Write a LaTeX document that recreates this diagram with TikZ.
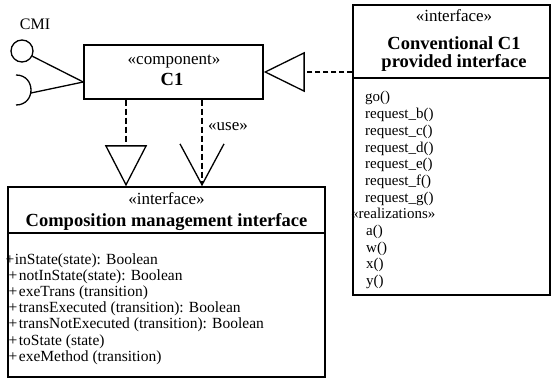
\documentclass[tikz,border=0pt]{standalone}
\usepackage{fontspec}
\setmainfont{Liberation Serif}
\usetikzlibrary{arrows.meta}

\tikzset{
  umlbox/.style={draw, rectangle, line width=1.5pt, inner sep=0pt},
  sepline/.style={line width=1.5pt},
  stereo/.style={anchor=base, inner sep=0pt, font=\fontsize{17}{19}\selectfont},
  umltitle/.style={anchor=base, inner sep=0pt, font=\fontsize{18.5}{20}\selectfont\bfseries},
  oper/.style={anchor=base west, inner sep=0pt, font=\fontsize{15}{17}\selectfont},
  link/.style={line width=1.3pt},
  realize/.style={line width=1.3pt, dash pattern=on 5pt off 3pt},
  usage/.style={line width=2.4pt, dash pattern=on 6pt off 3pt},
}

\begin{document}
\begin{tikzpicture}[x=1pt, y=-1pt]
  \useasboundingbox (0,0) rectangle (551,379);
  % component C1 with its two ports on the left
  \node[umlbox, minimum width=179pt, minimum height=54pt] (comp) at (173.5,72) {};
  \node[stereo] (compst) at (174,65) {«component»};
  \node[umltitle] (compname) at (172,86) {C1};
  \node[draw, circle, link, minimum size=22pt, inner sep=0pt] (cmi) at (22,51) {};
  \node[stereo, font=\fontsize{16}{18}\selectfont] (cmilabel) at (35,30) {CMI};
  \coordinate (join) at ([yshift=-10pt]comp.west);
  \coordinate (sockend) at (31,93);
  \draw[link] (16,75) .. controls (36,75) and (36,105) .. (16,105);
  \draw[link] (cmi) -- (join);
  \draw[link] (sockend) -- (join);

  % provided interface (right)
  \node[umlbox, minimum width=197pt, minimum height=290pt] (prov) at (451.5,150) {};
  \draw[sepline] ([yshift=-74pt]prov.north west) -- ([yshift=-74pt]prov.north east);
  \node[stereo] (provst) at (454,22) {«interface»};
  \node[umltitle] (provname) at (454,50) {Conventional C1};
  \node[umltitle] (provname2) at (454,68) {provided interface};
  \foreach \op [count=\i from 0] in {go(), request\_b(), request\_c(), request\_d(), request\_e(), request\_f(), request\_g()}
    \node[oper] (rop\i) at (365,{102+16.7*\i}) {\op};
  \node[oper] (rop7) at (351,{102+16.7*7}) {«realizations»};
  \foreach \op [count=\i from 8] in {a(), w(), x(), y()}
    \node[oper] (rop\i) at (366,{102+16.7*\i}) {\op};

  % composition management interface (bottom)
  \node[umlbox, minimum width=317pt, minimum height=190pt] (iface) at (166.5,282) {};
  \draw[sepline] ([yshift=-47pt]iface.north west) -- ([yshift=-47pt]iface.north east);
  \node[stereo] (ifst) at (166.5,205) {«interface»};
  \node[umltitle] (ifname) at (166.5,226.5) {Composition management interface};
  \node[oper, font=\fontsize{15.5}{18}\selectfont] (lop0) at (5.5,264) {+\hspace{0.5pt}inState(state): Boolean};
  \foreach \op [count=\i] in {notInState(state): Boolean, exeTrans (transition), transExecuted (transition): Boolean, transNotExecuted (transition): Boolean, toState (state), exeMethod (transition)}
    \node[oper, font=\fontsize{15.5}{18}\selectfont] (lop\i) at (8.5,{264+16.2*\i}) {+\hspace{1.5pt}\op};

  % dependencies
  \coordinate (realtop) at ([xshift=-47.5pt]comp.south);
  \coordinate (usetop) at ([xshift=28.5pt]comp.south);
  \draw[realize, -{Triangle[open, length=41pt, width=40pt, line width=1.3pt]}] (prov.west |- comp.east) -- (comp.east);
  \draw[usage, -{Triangle[open, length=41pt, width=42pt, line width=1.3pt]}] (realtop) -- (realtop |- iface.north);
  \draw[usage, -{Straight Barb[length=41pt, width=44pt, line width=1.3pt]}] (usetop) -- (usetop |- iface.north);
  \node[stereo, anchor=base west] (uselabel) at (208,131) {«use»};
\end{tikzpicture}
\end{document}
